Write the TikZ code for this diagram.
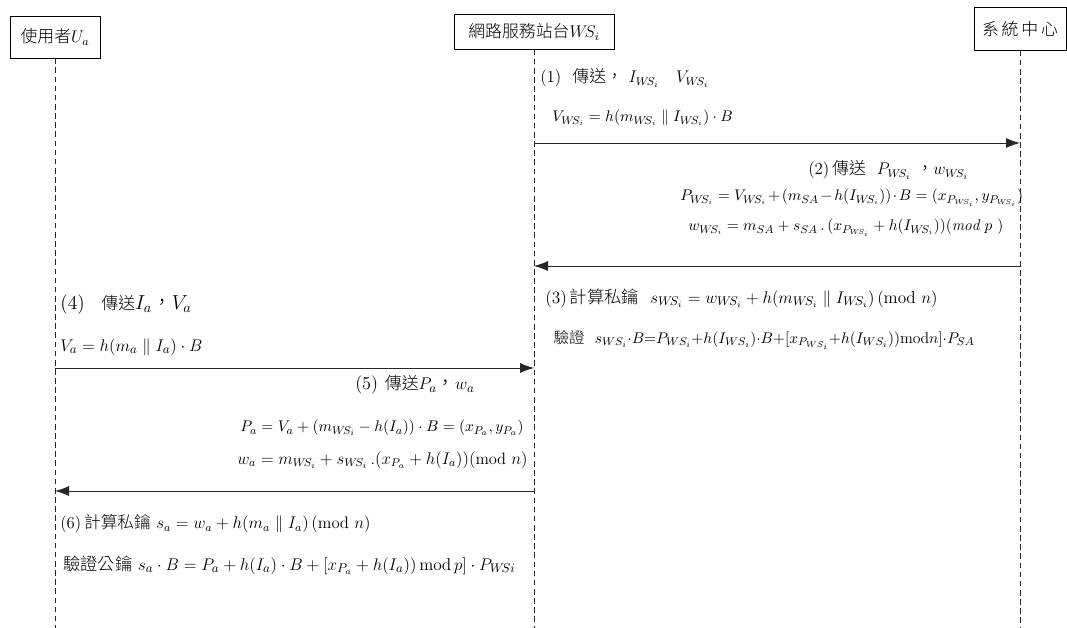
\documentclass[tikz,border=0pt]{standalone}
\usepackage{amsmath,amssymb}
\usepackage{fontspec}
\newfontfamily\cjk{Noto Sans CJK TC}[UprightFont=* Light]
\usetikzlibrary{positioning,arrows.meta}
\newcommand{\WS}{W\!S}
\newcommand{\fs}[1]{\fontsize{#1}{#1}\selectfont}

\begin{document}
\begin{tikzpicture}[x=0.025cm, y=-0.025cm,
      actor/.style={draw, fill=white, inner sep=3pt, font=\cjk\fs{12}},
      life/.style={dash pattern=on 4pt off 2.5pt, gray!30!black, semithick},
      msg/.style={-{Latex[length=3.5mm,width=2.5mm]}, gray!30!black, semithick},
      txt/.style={anchor=west, inner sep=0pt, font=\fs{11}}]
    \useasboundingbox (0,0) rectangle (1067,628);
    % participants
    \node[actor, minimum width=2.25cm, minimum height=1.05cm] (ua) at (55,37) {使用者$U_a$};
    \node[actor, minimum width=4cm, minimum height=0.87cm] (ws) at (534,32) {網路服務站台$\WS_i$};
    \node[actor, minimum width=2.3cm, minimum height=1.07cm] (sc) at (1020,29) {系\,統\,中\,心};
    \coordinate (ua-end) at (ua |- 0,628);
    \coordinate (ws-end) at (ws |- 0,628);
    \coordinate (sc-end) at (sc |- 0,628);
    \draw[life] (ua) -- (ua-end);
    \draw[life] (ws) -- (ws-end);
    \draw[life] (sc) -- (sc-end);
    % message rows
    \coordinate (ws-1) at (ws |- 0,143);  \coordinate (sc-1) at (sc |- 0,143);
    \coordinate (sc-2) at (sc |- 0,266);  \coordinate (ws-2) at (ws |- 0,266);
    \coordinate (ua-4) at (ua |- 0,368);  \coordinate (ws-4) at (ws |- 0,368);
    \coordinate (ws-5) at (ws |- 0,491);  \coordinate (ua-5) at (ua |- 0,491);
    \draw[msg] (ws-1) -- (sc-1);
    \draw[msg] (sc-2) -- (ws-2);
    \draw[msg] (ua-4) -- (ws-4);
    \draw[msg] (ws-5) -- (ua-5);
    % (1)
    \node[txt, font=\fs{12}] (t1a) at (540,78) {(1)\ \ {\cjk 傳送，}\ $I_{\WS_i}\quad V_{\WS_i}$};
    \node[txt] (t1b) at (552,118) {$V_{\WS_i}=h(m_{\WS_i}\parallel I_{\WS_i})\cdot B$};
    % (2)
    \node[txt, font=\fs{12}] (t2a) at (808,170) {(2)\,{\cjk 傳送}\ \ $P_{\WS_i}$\ {\cjk ，}$w_{\WS_i}$};
    \node[txt, font=\fs{11}] (t2b) at (680,198) {$\medmuskip=2mu P_{\WS_i}=V_{\WS_i}+(m_{SA}-h(I_{\WS_i}))\cdot B=(x_{P_{\WS_i}},y_{P_{\WS_i}})$};
    \node[txt] (t2c) at (688,228) {$w_{\WS_i}=m_{SA}+s_{SA}\,.\,(x_{P_{\WS_i}}+h(I_{\WS_i}))(\mathit{mod}\ p\ )$};
    % (3)
    \node[txt, font=\fs{12.3}] (t3a) at (545,298) {(3)\,{\cjk 計算私鑰}\ \ $s_{\WS_i}=w_{\WS_i}+h(m_{\WS_i}\parallel I_{\WS_i})\,(\mathrm{mod}\ n)$};
    \node[txt, font=\fs{11.2}] (t3b) at (550,340) {{\cjk\fs{11} 驗證}\ \ $\thinmuskip=0mu\medmuskip=0mu s_{\WS_i}\cdot B{=}P_{\WS_i}+h(I_{\WS_i})\cdot B{+}[x_{P_{\WS_i}}+h(I_{\WS_i}))\mathrm{mod}n]\cdot P_{SA}$};
    % (4)
    \node[txt, font=\fs{14}] (t4a) at (60,305) {(4)\ \ {\cjk\fs{12} 傳送}$I_a${\cjk ，}$V_a$};
    \node[txt, font=\fs{12.8}] (t4b) at (60,347) {$V_a=h(m_a\parallel I_a)\cdot B$};
    % (5)
    \node[txt, font=\fs{13}] (t5a) at (355,385) {(5)\,{\cjk\fs{12} 傳送}$P_a${\cjk ，}$w_a$};
    \node[txt, font=\fs{11.4}] (t5b) at (240,428) {$P_a=V_a+(m_{\WS_i}-h(I_a))\cdot B=(x_{P_a},y_{P_a})$};
    \node[txt, font=\fs{11.7}] (t5c) at (237,460) {$w_a=m_{\WS_i}+s_{\WS_i}\,.(x_{P_a}+h(I_a))(\mathrm{mod}\ n)$};
    % (6)
    \node[txt, font=\fs{11.9}] (t6a) at (60,524) {(6)\,{\cjk 計算私鑰} $s_a=w_a+h(m_a\parallel I_a)\,(\mathrm{mod}\ n)$};
    \node[txt, font=\fs{12.3}] (t6b) at (63,565) {{\cjk 驗證公鑰} $s_a\cdot B=P_a+h(I_a)\cdot B+[x_{P_a}+h(I_a))\,\mathrm{mod}\,p]\cdot P_{\WS i}$};
  \end{tikzpicture}
\end{document}
